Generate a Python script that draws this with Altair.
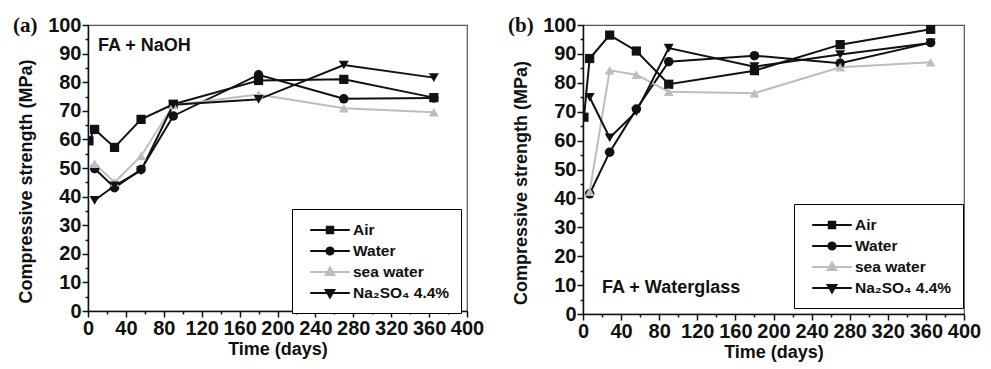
import altair as alt
import pandas as pd

days = [1, 7, 28, 56, 90, 180, 270, 365]
series = ["Air", "Water", "sea water", "Na₂SO₄ 4.4%"]

# panel (a) FA + NaOH
a_air = [59.5, 63.5, 57.2, 67.0, 72.3, 80.6, 81.0, 74.6]
a_water = [None, 49.8, 43.1, 49.5, 68.2, 82.6, 74.2, 74.5]
a_sea = [None, 51.5, 45.0, 54.2, 72.0, 75.7, 70.9, 69.5]
a_na = [None, 38.7, 43.8, 49.1, 72.1, 74.0, 86.0, 81.6]

# panel (b) FA + Waterglass
b_air = [68.1, 88.4, 96.5, 91.0, 79.5, 84.2, 93.2, 98.5]
b_water = [None, 41.6, 56.0, 70.9, 87.3, 89.4, 86.8, 93.9]
b_sea = [None, 42.3, 84.3, 82.8, 76.9, 76.4, 85.4, 87.1]
b_na = [None, 75.0, 61.0, 70.0, 92.0, 85.6, 89.8, 93.8]

tags = ["(a)", "(b)"]
notes = ["FA + NaOH", "FA + Waterglass"]

colors = ["#111111", "#111111", "#bdbdbd", "#111111"]
shapes = ["square", "circle", "triangle-up", "triangle-down"]
sizes = [85, 100, 135, 135]
line_part = "M-2.2,0H2.2"
legend_paths = [
    line_part + "M-0.36,-0.36H0.36V0.36H-0.36Z",
    line_part + "M-0.4,0A0.4,0.4 0 1,0 0.4,0A0.4,0.4 0 1,0 -0.4,0Z",
    line_part + "M0,-0.5L0.48,0.34H-0.48Z",
    line_part + "M0,0.5L0.48,-0.34H-0.48Z",
]

FONT = "Liberation Sans"


def long_table(vals_list):
    rows = []
    for s, vals in zip(series, vals_list):
        for d, v in zip(days, vals):
            if v is not None:
                rows.append({"day": d, "strength": v, "series": s})
    return pd.DataFrame(rows)


def panel(df, tag, note, note_x, note_y, width, height, lx, ly):
    xs = alt.Scale(domain=[0, 400], nice=False)
    ys = alt.Scale(domain=[0, 100], nice=False)
    xaxis = alt.Axis(
        values=list(range(0, 401, 20)),
        labelExpr="datum.value % 40 === 0 ? datum.label : ''",
        tickSize={"condition": {"test": "datum.value % 40 === 0", "value": 6}, "value": 3},
        labelFlush=False, labelOverlap=False, grid=False, labelPadding=1,
        title="Time (days)", titlePadding=2,
    )
    yaxis = alt.Axis(
        values=list(range(0, 101, 5)),
        labelExpr="datum.value % 10 === 0 ? datum.label : ''",
        tickSize={"condition": {"test": "datum.value % 10 === 0", "value": 6}, "value": 3},
        labelOverlap=False, grid=False, labelPadding=1,
        title="Compressive strength (MPa)", titlePadding=12, titleY=height / 2 + 13,
    )
    cscale = alt.Scale(domain=series, range=colors)
    x = alt.X("day:Q", scale=xs, axis=xaxis)
    y = alt.Y("strength:Q", scale=ys, axis=yaxis)

    lines = alt.Chart(df).mark_line(strokeWidth=2, clip=True).encode(
        x=x, y=y,
        color=alt.Color("series:N", scale=cscale, legend=None),
    )
    points = alt.Chart(df).mark_point(filled=True, opacity=1, clip=True).encode(
        x=x, y=y,
        color=alt.Color("series:N", scale=cscale, legend=None),
        shape=alt.Shape("series:N", scale=alt.Scale(domain=series, range=shapes), legend=None),
        size=alt.Size("series:N", scale=alt.Scale(domain=series, range=sizes), legend=None),
    )
    leg = alt.Legend(
        title=None, orient="none", legendX=lx, legendY=ly,
        strokeColor="black", fillColor="white", padding=11,
        symbolSize=324, symbolStrokeWidth=2, symbolOffset=17, labelOffset=13,
        labelFont=FONT, labelFontSize=15.5, labelFontWeight="bold", labelColor="#111",
        rowPadding=2,
    )
    carrier = alt.Chart(df).transform_filter("false").mark_point(
        filled=True, opacity=1, strokeWidth=2
    ).encode(
        shape=alt.Shape("series:N", scale=alt.Scale(domain=series, range=legend_paths), legend=leg),
        fill=alt.Fill("series:N", scale=cscale, legend=leg),
        stroke=alt.Stroke("series:N", scale=cscale, legend=leg),
    )
    tag_df = pd.DataFrame({"t": [tag]})
    note_df = pd.DataFrame({"t": [note]})
    tag_text = alt.Chart(tag_df).mark_text(
        font="Liberation Serif", fontSize=21, fontWeight="bold", align="left",
        baseline="alphabetic", color="#111",
    ).encode(text="t:N", x=alt.value(-75), y=alt.value(7))
    note_text = alt.Chart(note_df).mark_text(
        font=FONT, fontSize=18, fontWeight="bold", align="left",
        baseline="middle", color="#111",
    ).encode(text="t:N", x=alt.value(note_x), y=alt.value(note_y))

    return alt.layer(lines, points, carrier, tag_text, note_text).resolve_scale(
        shape="independent", color="independent", fill="independent",
        stroke="independent", size="independent",
    ).properties(width=width, height=height)


pa = panel(long_table([a_air, a_water, a_sea, a_na]), tags[0], notes[0], 10, 21, 379, 286, 204, 184)
pb = panel(long_table([b_air, b_water, b_sea, b_na]), tags[1], notes[1], 19, 263, 381, 289, 211, 179)

chart = alt.hconcat(pa, pb, spacing=22).properties(
    padding={"left": 4, "top": 6, "right": 0, "bottom": 0}
).configure_view(stroke="#555555", strokeWidth=1.2).configure_axis(
    domainColor="#111", domainWidth=1.5, tickColor="#111", tickWidth=1.5,
    labelFont=FONT, labelFontSize=20, labelFontWeight="bold", labelColor="#111",
    titleFont=FONT, titleFontSize=18, titleFontWeight="bold", titleColor="#111",
)

chart.save("out.html", embed_options={"renderer": "svg", "actions": False})
